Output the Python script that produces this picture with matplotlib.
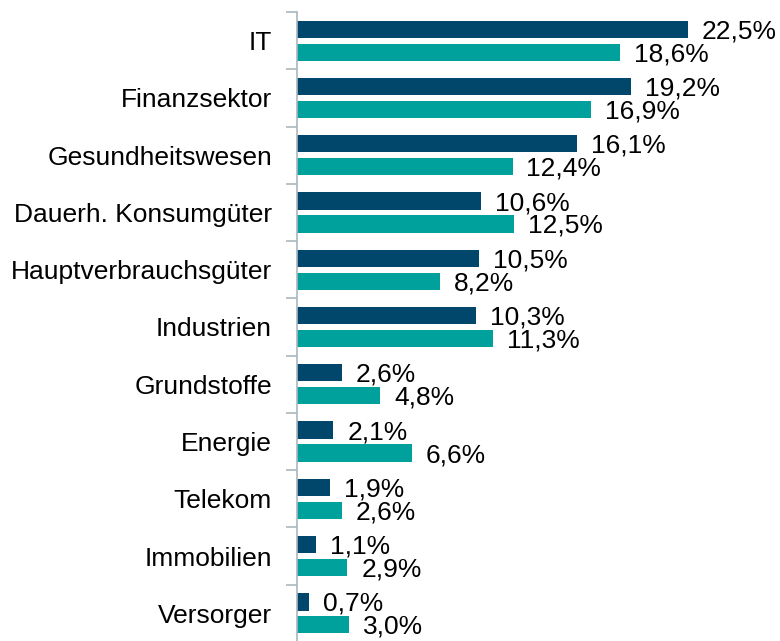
import numpy as np
import matplotlib
matplotlib.use('Agg')
from matplotlib import pyplot as plt

# sectors, top to bottom
sectors = ['IT', 'Finanzsektor', 'Gesundheitswesen', 'Dauerh. Konsumgüter',
           'Hauptverbrauchsgüter', 'Industrien', 'Grundstoffe', 'Energie',
           'Telekom', 'Immobilien', 'Versorger']
dark_vals = [22.5, 19.2, 16.1, 10.6, 10.5, 10.3, 2.6, 2.1, 1.9, 1.1, 0.7]
teal_vals = [18.6, 16.9, 12.4, 12.5, 8.2, 11.3, 4.8, 6.6, 2.6, 2.9, 3.0]

dark_col = '#00476B'
teal_col = '#00A19D'
axis_col = '#A9B8BD'

plt.rcParams['font.family'] = ['Liberation Sans', 'DejaVu Sans']

fig = plt.figure(figsize=(7.8, 6.41), dpi=100)
ax = fig.add_axes([297/780, -1/641, (780-297)/780, 630/641])

n = len(sectors)
y = np.arange(n)
h = 0.3
ax.barh(y - 0.2, dark_vals, height=h, color=dark_col)
ax.barh(y + 0.2, teal_vals, height=h, color=teal_col)

def fmt(v):
    return ('%.1f' % v).replace('.', ',') + '%'

for i in range(n):
    ax.annotate(fmt(dark_vals[i]), (dark_vals[i], y[i] - 0.2), xytext=(10, -1.5),
                textcoords='offset points', va='center', ha='left', fontsize=19)
    ax.annotate(fmt(teal_vals[i]), (teal_vals[i], y[i] + 0.2), xytext=(10, -1.5),
                textcoords='offset points', va='center', ha='left', fontsize=19)

ax.set_ylim(n - 0.5, -0.5)
ax.set_xlim(0, (780 - 297) / 17.38)

ax.set_yticks(y)
ax.set_yticklabels(sectors, fontsize=19)
ax.tick_params(axis='y', which='major', length=0, pad=18)
ax.set_yticks(np.arange(n + 1) - 0.5, minor=True)
ax.tick_params(axis='y', which='minor', length=8, width=1.2, color=axis_col)
ax.set_xticks([])

for s in ['top', 'right', 'bottom']:
    ax.spines[s].set_visible(False)
ax.spines['left'].set_color(axis_col)
ax.spines['left'].set_linewidth(1.2)

fig.savefig('out.png', dpi=100)
